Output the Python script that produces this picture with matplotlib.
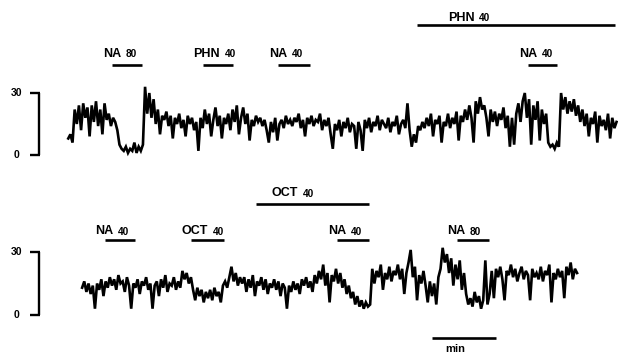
import numpy as np
import matplotlib
matplotlib.use("Agg")
import matplotlib.pyplot as plt

# two chart recorder traces with drug application bars
# time in seconds values in arbitrary units scale bar 0 to 30

DT = 2.0  # sample spacing s
TOP_START = 64.0
BOT_START = 77.0

top_trace = [
    8, 10, 6, 22, 15, 24, 12, 25, 18, 23, 9, 24, 16, 26, 14,
    22, 10, 25, 17, 20, 14, 18, 16, 12, 5, 3, 2, 4, 1, 3,
    2, 6, 1, 4, 2, 5, 33, 20, 30, 18, 27, 15, 22, 10, 19,
    17, 21, 14, 19, 8, 18, 15, 20, 13, 17, 9, 19, 15, 18, 12,
    16, 2, 18, 13, 22, 15, 20, 9, 17, 23, 14, 19, 8, 18, 15,
    20, 12, 22, 16, 24, 10, 18, 23, 15, 20, 7, 17, 14, 19, 16,
    18, 14, 17, 12, 6, 16, 11, 18, 7, 15, 17, 13, 19, 15, 17,
    14, 18, 16, 20, 13, 17, 9, 18, 15, 19, 14, 17, 16, 20, 12,
    17, 14, 18, 10, 3, 15, 12, 17, 9, 16, 13, 18, 11, 15, 14,
    3, 16, 12, 2, 17, 13, 18, 11, 16, 14, 19, 12, 17, 15, 13,
    18, 11, 16, 14, 19, 10, 15, 17, 13, 25, 12, 4, 10, 6, 14,
    12, 16, 13, 18, 14, 20, 9, 17, 15, 19, 6, 16, 14, 20, 13,
    18, 15, 21, 7, 19, 16, 22, 17, 24, 18, 6, 26, 20, 28, 22,
    24, 18, 9, 22, 16, 21, 14, 20, 17, 23, 13, 19, 4, 18, 5,
    20, 25, 16, 26, 30, 18, 27, 5, 24, 17, 26, 7, 22, 15, 20,
    6, 4, 5, 3, 6, 4, 30, 22, 28, 20, 26, 21, 27, 19, 24,
    16, 22, 14, 20, 9, 18, 15, 21, 6, 19, 14, 17, 12, 20, 8,
    18, 13, 16,
]

bottom_trace = [
    13, 16, 11, 15, 10, 14, 3, 15, 12, 17, 9, 16, 13, 18, 14,
    17, 12, 19, 15, 16, 11, 18, 14, 3, 15, 13, 17, 10, 16, 14,
    18, 12, 15, 3, 14, 16, 9, 17, 13, 19, 11, 15, 14, 18, 12,
    16, 13, 21, 17, 20, 15, 18, 12, 7, 13, 9, 12, 6, 11, 8,
    12, 7, 13, 9, 11, 6, 14, 16, 13, 18, 23, 16, 20, 14, 18,
    15, 18, 11, 17, 13, 19, 9, 16, 14, 18, 12, 17, 10, 15, 13,
    17, 12, 16, 9, 15, 13, 3, 14, 11, 16, 12, 15, 10, 17, 14,
    18, 13, 16, 11, 19, 15, 21, 17, 24, 14, 20, 6, 19, 16, 22,
    15, 20, 13, 17, 10, 14, 8, 11, 5, 9, 4, 7, 3, 6, 4,
    5, 22, 15, 21, 18, 24, 12, 20, 17, 23, 16, 21, 19, 24, 17,
    22, 10, 20, 25, 31, 18, 23, 7, 19, 15, 21, 14, 6, 16, 9,
    15, 5, 18, 22, 32, 25, 29, 20, 27, 14, 24, 17, 26, 12, 20,
    10, 5, 8, 4, 11, 6, 9, 3, 7, 26, 5, 10, 21, 8, 22,
    18, 23, 17, 7, 21, 19, 24, 18, 22, 16, 20, 23, 17, 21, 19,
    7, 22, 18, 20, 17, 23, 16, 21, 19, 24, 6, 20, 17, 22, 18,
    21, 8, 23, 19, 25, 17, 22, 20,
]

# drug applications name dose start end in s
top_names = ["NA", "PHN", "NA", "PHN", "NA"]
top_doses = ["80", "40", "40", "40", "40"]
top_start = [105, 190, 261, 391, 495]
top_end = [133, 218, 291, 577, 522]

bot_names = ["NA", "OCT", "OCT", "NA", "NA"]
bot_doses = ["40", "40", "40", "40", "80"]
bot_start = [98, 179, 240, 316, 428]
bot_end = [127, 210, 346, 346, 458]

SCALE_LO, SCALE_HI = 0, 30
MIN_BAR = (405, 465)

XMAX = 618 * 60 / 64  # s across the page


def draw_scale(ax):
    ax.plot([36.6, 36.6], [SCALE_LO, SCALE_HI], color="k", lw=1.7,
            solid_capstyle="butt")
    for v in (SCALE_LO, SCALE_HI):
        ax.plot([28.5, 37.4], [v, v], color="k", lw=1.7, solid_capstyle="butt")
    ax.text(21, SCALE_HI, "30", ha="right", va="center", fontsize=7.5,
            fontweight="bold")
    ax.text(18.5, SCALE_LO, "0", ha="right", va="center", fontsize=7.5,
            fontweight="bold")


def draw_drugs(ax, names, doses, starts, ends, bar_y, txt_y, long_bar_y,
               long_txt_y, long_txt_x):
    for n, d, s, e in zip(names, doses, starts, ends):
        is_long = (e - s) > 60
        by = long_bar_y if is_long else bar_y
        ty = long_txt_y if is_long else txt_y
        tx = long_txt_x.get(n, s - 8) if is_long else s - 8.5
        ax.plot([s, e], [by, by], color="k", lw=1.9, solid_capstyle="butt")
        t = ax.text(tx, ty, n, ha="left", va="baseline", fontsize=9,
                    fontweight="bold")
        # dose sits on about the same baseline in smaller type
        ax.annotate(d, xy=(1, 0), xycoords=t, xytext=(3.2, 0.3),
                    textcoords="offset points", ha="left", va="bottom",
                    fontsize=7.3, fontweight="bold")


def main():
    plt.rcParams["font.family"] = ["Liberation Sans", "DejaVu Sans"]
    fig = plt.figure(figsize=(6.18, 3.55), dpi=100)

    ax1 = fig.add_axes([0, 1 - 175 / 355, 1, 175 / 355])
    ax2 = fig.add_axes([0, 0, 1, 180 / 355])

    t1 = TOP_START + DT * np.arange(len(top_trace))
    t2 = BOT_START + DT * np.arange(len(bottom_trace))
    ax1.plot(t1, top_trace, color="k", lw=1.9, solid_joinstyle="miter")
    ax2.plot(t2, bottom_trace, color="k", lw=1.9, solid_joinstyle="miter")

    ax1.set_xlim(0, XMAX)
    ax1.set_ylim((155 - 175) / 2.067, 155 / 2.067)
    ax2.set_xlim(0, XMAX)
    ax2.set_ylim((315 - 355) / 2.1, (315 - 175) / 2.1)

    draw_scale(ax1)
    draw_scale(ax2)

    draw_drugs(ax1, top_names, top_doses, top_start, top_end,
               bar_y=43.3, txt_y=47.5, long_bar_y=62.9, long_txt_y=65.0,
               long_txt_x={"PHN": 420})
    draw_drugs(ax2, bot_names, bot_doses, bot_start, bot_end,
               bar_y=35.7, txt_y=38.5, long_bar_y=52.9, long_txt_y=56.5,
               long_txt_x={"OCT": 255})

    # time scale bar
    ax2.plot(MIN_BAR, [-11, -11], color="k", lw=1.9, solid_capstyle="butt")
    ax2.text(MIN_BAR[0] + 12, -17.5, "min", ha="left", va="baseline",
             fontsize=8, fontweight="bold")

    for ax in (ax1, ax2):
        ax.axis("off")

    fig.savefig("out.png", dpi=100)
    plt.close(fig)


if __name__ == "__main__":
    main()
